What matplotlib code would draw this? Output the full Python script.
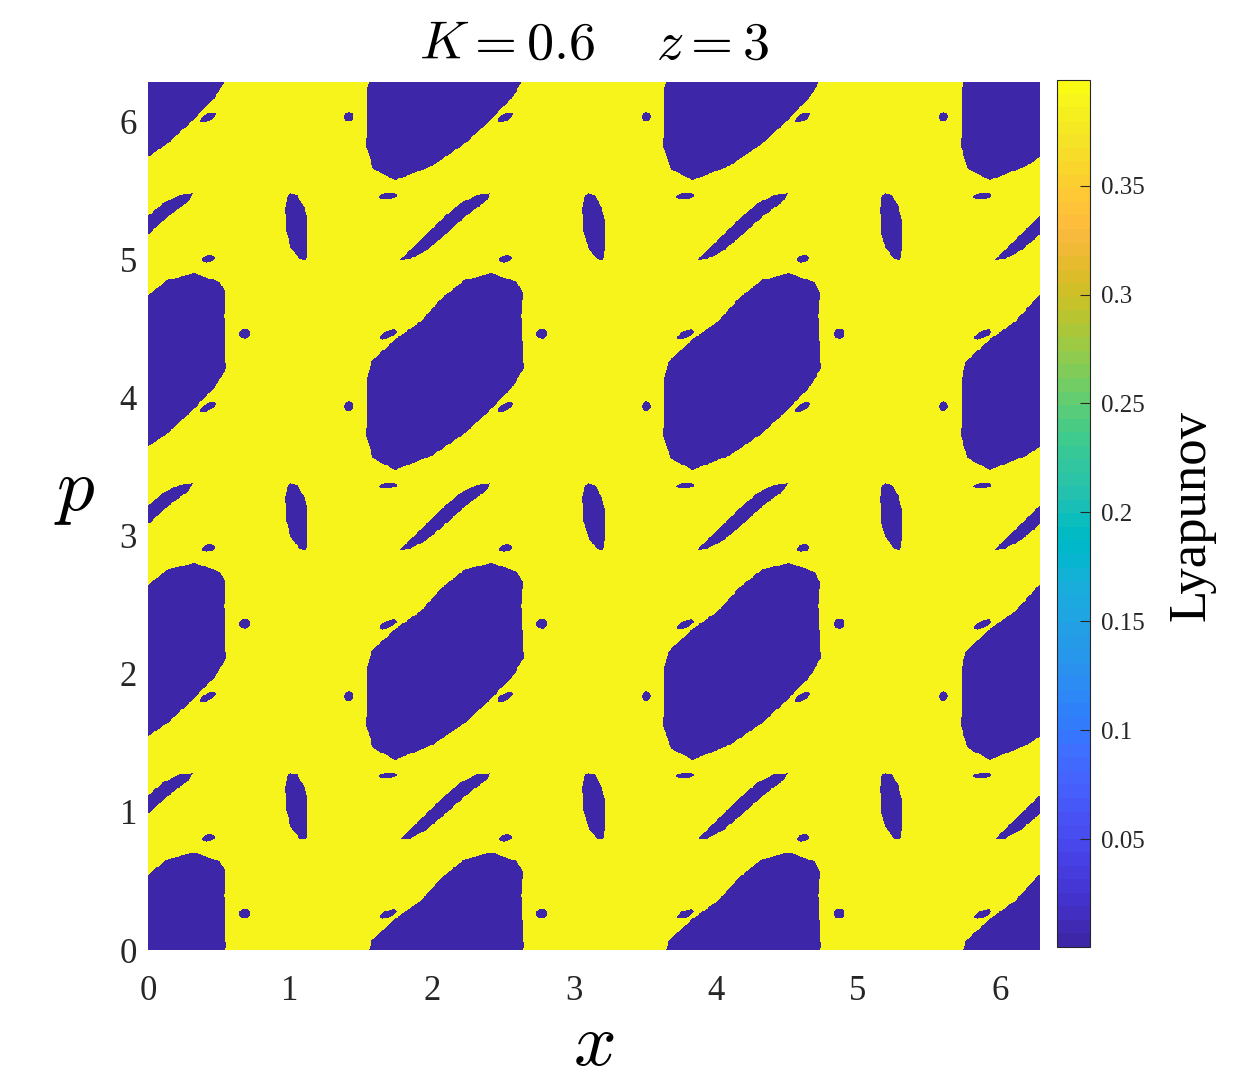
import numpy as np
import matplotlib
matplotlib.use("Agg")
import matplotlib.pyplot as plt
from matplotlib.path import Path
from matplotlib.patches import Ellipse
from matplotlib.colors import ListedColormap

# ---------------- data ----------------
K_value = 0.6
z_value = 3
period = 2 * np.pi / z_value          # the map repeats with period 2*pi/3 in x and p

lyap_chaotic = 0.392                   # yellow sea
lyap_regular = 0.0                     # blue islands
cbar_min, cbar_max = 0.0005, 0.3985
cbar_ticks = [0.05, 0.1, 0.15, 0.2, 0.25, 0.3, 0.35]
cbar_ticklabels = ["0.05", "0.1", "0.15", "0.2", "0.25", "0.3", "0.35"]
axis_ticks = [0, 1, 2, 3, 4, 5, 6]

# big tilted island centred near (2pi/3, 2pi/3)
big_island_x = [2.42, 2.60, 2.64, 2.63, 2.645, 2.57, 2.40, 2.23, 2.00, 1.74,
                1.585, 1.538, 1.545, 1.572, 1.74, 1.92, 2.07, 2.23]
big_island_p = [2.80, 2.735, 2.66, 2.49, 2.11, 1.98, 1.80, 1.64, 1.48, 1.377,
                1.46, 1.617, 2.05, 2.16, 2.32, 2.45, 2.62, 2.75]

# thin diagonal island
diag_island_x = [1.775, 1.915, 2.056, 2.20, 2.32, 2.41, 2.385, 2.23, 2.09, 1.96, 1.845]
diag_island_p = [0.80, 0.94, 1.085, 1.21, 1.27, 1.28, 1.23, 1.11, 0.98, 0.868, 0.806]

# small upright island
vert_island_x = [3.10, 3.15, 3.195, 3.218, 3.218, 3.206, 3.16, 3.10, 3.066, 3.061, 3.077]
vert_island_p = [1.28, 1.266, 1.18, 1.085, 0.89, 0.796, 0.808, 0.89, 1.013, 1.18, 1.266]

# tiny satellite islands: centre x, centre p, width, height, angle (deg)
tiny_x = [1.69, 2.775, 2.515, 1.415, 1.69, 2.52]
tiny_p = [2.355, 2.36, 1.83, 1.835, 1.262, 0.81]
tiny_w = [0.13, 0.08, 0.12, 0.06, 0.13, 0.09]
tiny_h = [0.05, 0.07, 0.05, 0.07, 0.04, 0.05]
tiny_a = [25, 0, 30, 0, 5, 15]

# ---------------- parula colormap ----------------
parula_rgb = [
    [0.2422, 0.1504, 0.6603], [0.2504, 0.1650, 0.7076], [0.2578, 0.1818, 0.7511],
    [0.2647, 0.1978, 0.7952], [0.2706, 0.2147, 0.8364], [0.2751, 0.2342, 0.8710],
    [0.2783, 0.2559, 0.8991], [0.2803, 0.2782, 0.9221], [0.2813, 0.3006, 0.9414],
    [0.2810, 0.3228, 0.9579], [0.2795, 0.3447, 0.9717], [0.2760, 0.3667, 0.9829],
    [0.2699, 0.3892, 0.9906], [0.2602, 0.4123, 0.9952], [0.2440, 0.4358, 0.9988],
    [0.2206, 0.4603, 0.9973], [0.1963, 0.4847, 0.9892], [0.1834, 0.5074, 0.9798],
    [0.1786, 0.5289, 0.9682], [0.1764, 0.5499, 0.9520], [0.1687, 0.5703, 0.9359],
    [0.1540, 0.5902, 0.9218], [0.1460, 0.6091, 0.9079], [0.1380, 0.6276, 0.8973],
    [0.1248, 0.6459, 0.8883], [0.1113, 0.6635, 0.8763], [0.0952, 0.6798, 0.8598],
    [0.0689, 0.6948, 0.8394], [0.0297, 0.7082, 0.8163], [0.0036, 0.7203, 0.7917],
    [0.0067, 0.7312, 0.7660], [0.0433, 0.7411, 0.7394], [0.0964, 0.7500, 0.7120],
    [0.1408, 0.7584, 0.6842], [0.1717, 0.7670, 0.6554], [0.1938, 0.7758, 0.6251],
    [0.2161, 0.7843, 0.5923], [0.2470, 0.7918, 0.5567], [0.2906, 0.7973, 0.5188],
    [0.3406, 0.8008, 0.4789], [0.3909, 0.8029, 0.4354], [0.4456, 0.8024, 0.3909],
    [0.5044, 0.7993, 0.3480], [0.5616, 0.7942, 0.3045], [0.6174, 0.7876, 0.2612],
    [0.6720, 0.7793, 0.2227], [0.7242, 0.7698, 0.1910], [0.7738, 0.7598, 0.1646],
    [0.8203, 0.7498, 0.1535], [0.8634, 0.7406, 0.1596], [0.9035, 0.7330, 0.1774],
    [0.9393, 0.7288, 0.2100], [0.9728, 0.7298, 0.2394], [0.9956, 0.7434, 0.2371],
    [0.9970, 0.7659, 0.2199], [0.9952, 0.7893, 0.2028], [0.9892, 0.8136, 0.1885],
    [0.9786, 0.8386, 0.1766], [0.9676, 0.8639, 0.1643], [0.9610, 0.8890, 0.1537],
    [0.9597, 0.9135, 0.1423], [0.9628, 0.9373, 0.1265], [0.9691, 0.9606, 0.1064],
    [0.9769, 0.9839, 0.0805]]
parula = ListedColormap(parula_rgb, name="parula")

# ---------------- build the field on one periodic cell ----------------
n_cell = 330
c = (np.arange(n_cell) + 0.5) * period / n_cell
CX, CP = np.meshgrid(c, c)
pts = np.column_stack([CX.ravel(), CP.ravel()])

paths = [Path(np.column_stack([big_island_x, big_island_p])),
         Path(np.column_stack([diag_island_x, diag_island_p])),
         Path(np.column_stack([vert_island_x, vert_island_p]))]
for cx, cp, w, h, a in zip(tiny_x, tiny_p, tiny_w, tiny_h, tiny_a):
    e = Ellipse((cx, cp), w, h, angle=a)
    paths.append(e.get_patch_transform().transform_path(e.get_path()))

regular = np.zeros(len(pts), dtype=bool)
for path in paths:
    for i in (-1, 0, 1):
        for j in (-1, 0, 1):
            shifted = pts + np.array([i * period, j * period])
            regular |= path.contains_points(shifted)
cell = np.where(regular, lyap_regular, lyap_chaotic).reshape(n_cell, n_cell)
field = np.tile(cell, (3, 3))

# ---------------- figure ----------------
plt.rcParams["mathtext.fontset"] = "cm"
plt.rcParams["font.family"] = ["Liberation Serif", "DejaVu Serif"]

fig = plt.figure(figsize=(12.40, 10.87), dpi=100)
ax = fig.add_axes([0.1194, 0.1260, 0.7193, 0.7986])
im = ax.imshow(field, origin="lower", extent=[0, 2 * np.pi, 0, 2 * np.pi],
               cmap=parula, vmin=cbar_min, vmax=cbar_max,
               interpolation="nearest", aspect="auto")
ax.set_xlim(0, 2 * np.pi)
ax.set_ylim(0, 2 * np.pi)
ax.set_xticks(axis_ticks)
ax.set_yticks(axis_ticks)
ax.tick_params(labelsize=25, length=0, colors="#262626")
ax.tick_params(axis="x", pad=18)
ax.tick_params(axis="y", pad=8)
for s in ax.spines.values():
    s.set_visible(False)

fig.text(594 / 1240, 1 - 45 / 1087, r"$K = 0.6 \quad\; z = 3$", fontsize=39,
         ha="center", va="center")
ax.set_xlabel(r"$x$", fontsize=54)
ax.xaxis.set_label_coords(0.5, -0.112)
ax.xaxis.label.set_va("center")
ax.set_ylabel(r"$p$", fontsize=54, rotation=0)
ax.yaxis.set_label_coords(-0.082, 0.5265)
ax.yaxis.label.set_va("center")
ax.yaxis.label.set_ha("center")

cax = fig.add_axes([0.8524, 0.1288, 0.0266, 0.7976])
cb = fig.colorbar(im, cax=cax)
cb.set_ticks(cbar_ticks)
cb.set_ticklabels(cbar_ticklabels)
cb.ax.tick_params(labelsize=18, direction="in", length=7, width=0.8, colors="#262626", pad=8)
cb.outline.set_linewidth(0.8)
cb.outline.set_edgecolor("#262626")
cb.set_label("Lyapunov", fontsize=38)
cb.ax.yaxis.set_label_coords(4.09, 0.498)
cb.ax.yaxis.label.set_va("center")

fig.savefig("out.png", dpi=100)
